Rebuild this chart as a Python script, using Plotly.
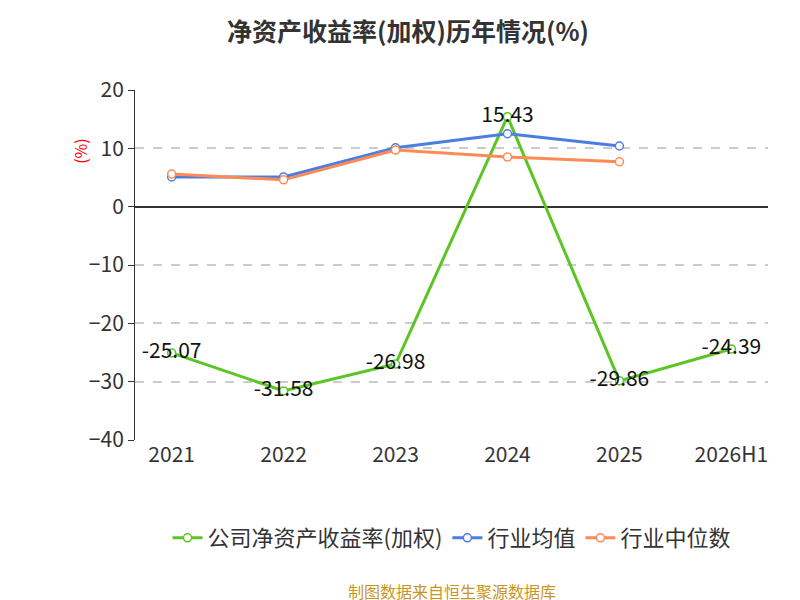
import plotly.graph_objects as go

years = ["2021", "2022", "2023", "2024", "2025", "2026H1"]
company = [-25.07, -31.58, -26.98, 15.43, -29.86, -24.39]
industry_avg = [5.1, 5.1, 10.1, 12.5, 10.4]
industry_mid = [5.6, 4.6, 9.7, 8.5, 7.7]

green = "#5cc524"
blue = "#4a7ee0"
orange = "#ff8a55"

fig = go.Figure()
fig.add_trace(go.Scatter(
    x=years, y=company, name="公司净资产收益率(加权)", mode="lines+markers+text",
    line=dict(color=green, width=3),
    marker=dict(size=8, color="white", line=dict(color=green, width=1.5)),
    text=[f"{v:.2f}" for v in company], textposition="middle center",
    textfont=dict(size=21, color="#111"),
))
fig.add_trace(go.Scatter(
    x=years[:5], y=industry_avg, name="行业均值", mode="lines+markers",
    line=dict(color=blue, width=3),
    marker=dict(size=8, color="white", line=dict(color=blue, width=1.5)),
))
fig.add_trace(go.Scatter(
    x=years[:5], y=industry_mid, name="行业中位数", mode="lines+markers",
    line=dict(color=orange, width=3),
    marker=dict(size=8, color="white", line=dict(color=orange, width=1.5)),
))

fig.update_layout(
    width=800, height=600,
    plot_bgcolor="white", paper_bgcolor="white",
    font=dict(family="Noto Sans CJK SC", size=18, color="#333"),
    title=dict(text="<b>净资产收益率(加权)历年情况(%)</b>", x=0.5, y=0.975,
               xanchor="center", font=dict(size=25, color="#333")),
    margin=dict(l=127, r=40, t=82, b=168),
    showlegend=True,
    legend=dict(orientation="h", x=0.5, xanchor="center", y=-0.28, yanchor="middle",
                font=dict(size=22, color="#333")),
    xaxis=dict(type="category", showgrid=False, ticks="", showline=False,
               tickfont=dict(size=21)),
    yaxis=dict(range=[-40, 20], dtick=10, showgrid=True, gridcolor="#cccccc",
               griddash="dash", gridwidth=1.5, showline=True, linecolor="#333",
               ticks="outside", ticklen=6, tickcolor="#333",
               zeroline=True, zerolinecolor="#333", zerolinewidth=1.5,
               tickfont=dict(size=21)),
)
fig.add_annotation(text="(%)", x=-0.11, y=0.87, xref="paper", yref="paper",
                   textangle=-90, showarrow=False, font=dict(size=16, color="red"))
fig.add_annotation(text="制图数据来自恒生聚源数据库", x=0.5, y=-0.43, xref="paper",
                   yref="paper", yanchor="middle", showarrow=False,
                   font=dict(size=16, color="#c8961e"))

fig.write_html("out.html")
